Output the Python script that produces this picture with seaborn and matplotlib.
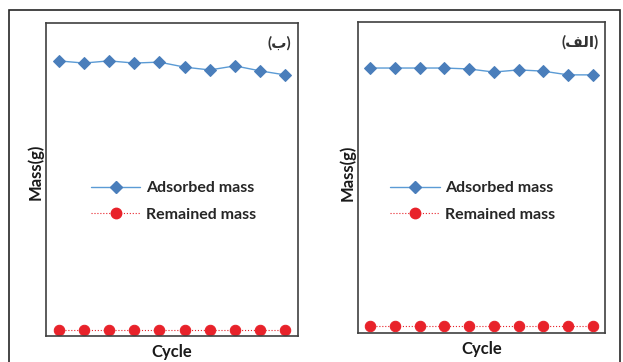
import matplotlib
matplotlib.use("Agg")
import matplotlib.pyplot as plt
import seaborn as sns
import pandas as pd
from matplotlib.lines import Line2D

sns.set_theme(style="white")
plt.rcParams['font.family'] = ['Lato', 'DejaVu Sans']

cycles = list(range(1, 11))
# panel (ب) - left
adsorbed_b = [87.9, 87.2, 87.9, 87.2, 87.5, 85.9, 85.0, 86.3, 84.7, 83.4]
remained_b = [1.9] * 10
# panel (الف) - right
adsorbed_a = [85.2, 85.2, 85.2, 85.2, 84.9, 83.9, 84.6, 84.2, 83.0, 83.0]
remained_a = [2.3] * 10

labels = ["Adsorbed mass", "Remained mass"]
panel_titles = ["(\u0628)", "(\ufed2\ufedf\ufe8d)"]

W, H = 623, 362
fig = plt.figure(figsize=(W / 100, H / 100), dpi=100)

def ax_rect(x0, y0, x1, y1):
    return [x0 / W, 1 - y1 / H, (x1 - x0) / W, (y1 - y0) / H]

axL = fig.add_axes(ax_rect(46, 23, 298, 336))
axR = fig.add_axes(ax_rect(358, 22, 605, 333))

blue_line = "#5b9bd5"
blue_mk = "#4a7ebb"
red = "#e8222a"

panels = [
    (axL, adsorbed_b, remained_b, panel_titles[0], (0.178, 0.43), 0.525),
    (axR, adsorbed_a, remained_a, panel_titles[1], (0.130, 0.423), 0.515),
]

for ax, ads, rem, title, legpos, ly in panels:
    df = pd.DataFrame({"Cycle": cycles, "ads": ads, "rem": rem})
    sns.lineplot(data=df, x="Cycle", y="ads", ax=ax, color=blue_line, lw=1.0,
                 marker="D", markersize=6, markerfacecolor=blue_mk,
                 markeredgecolor=blue_mk, label=labels[0])
    sns.lineplot(data=df, x="Cycle", y="rem", ax=ax, color=red, lw=0.8,
                 linestyle=":", marker="o", markersize=7.5,
                 markerfacecolor=red, markeredgecolor=red, label=labels[1])
    ax.set_xlim(0.5, 10.5)
    ax.set_ylim(0, 100)
    ax.set_xticks([])
    ax.set_yticks([])
    ax.set_xlabel("Cycle", fontsize=12, fontweight="bold", labelpad=6,
                  color="#1a1a1a")
    ax.set_ylabel("Mass(g)", fontsize=12, fontweight="bold", labelpad=2,
                  color="#1a1a1a", y=ly)
    for s in ax.spines.values():
        s.set_color("#404040")
        s.set_linewidth(1.2)
    ax.text(0.975, 0.935, title, transform=ax.transAxes, ha="right", va="center",
            fontsize=11, fontweight="bold", color="#333333")
    handles = [
        Line2D([], [], color=blue_line, lw=1.0, marker="D", markersize=6,
               markerfacecolor=blue_mk, markeredgecolor=blue_mk),
        Line2D([], [], color=red, lw=0.8, linestyle=":", marker="o", markersize=7.5,
               markerfacecolor=red, markeredgecolor=red),
    ]
    leg = ax.legend(handles, labels, loc="center left", bbox_to_anchor=legpos,
                    frameon=False, borderaxespad=0, borderpad=0,
                    handlelength=3.1, handletextpad=0.35, labelspacing=0.75,
                    prop={"weight": "bold", "size": 11.5,
                          "family": ["Lato", "DejaVu Sans"]})
    for t in leg.get_texts():
        t.set_color("#262626")

# outer frame around both panels
frame = plt.Rectangle((9 / W, -0.05), (620 - 9) / W, (H - 10) / H + 0.05,
                      transform=fig.transFigure, fill=False, edgecolor="#262626",
                      lw=1.2)
fig.patches.append(frame)

fig.savefig("out.png", dpi=100)
